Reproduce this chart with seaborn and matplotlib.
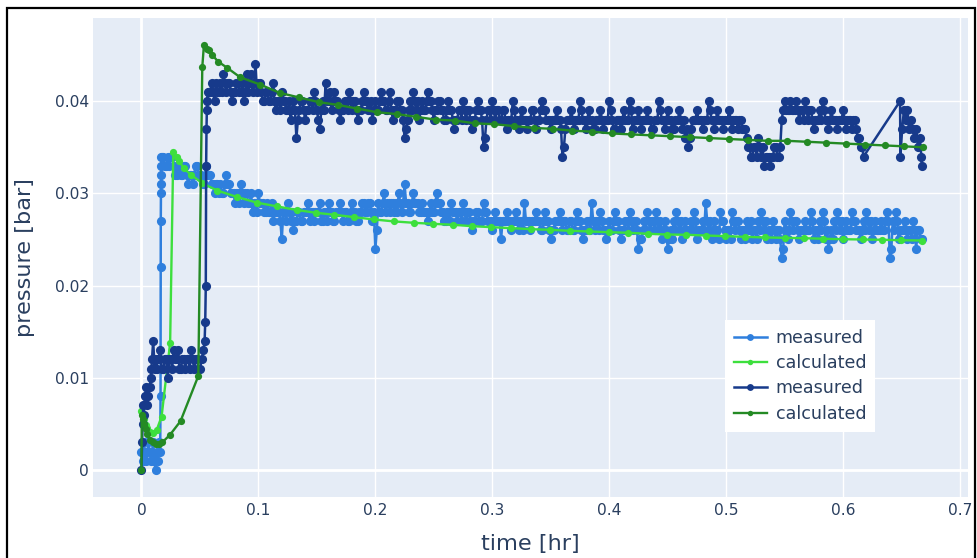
import numpy as np
import pandas as pd
import matplotlib
matplotlib.use("Agg")
import matplotlib.pyplot as plt
import seaborn as sns
from matplotlib.patches import Rectangle

# ---------------- data (pressure values of measured series in 0.001 bar) ----------------
# measured #1 (light blue): early part, explicit times
m1_early_t = [0.000, 0.001, 0.002, 0.003, 0.004, 0.005, 0.006, 0.007, 0.008, 0.009,
              0.010, 0.011, 0.012, 0.013, 0.014, 0.015, 0.0160, 0.0163, 0.0164, 0.0165,
              0.0166, 0.0167, 0.0168, 0.0169, 0.0170]
m1_early_v = [2, 1, 3, 2, 1, 2, 3, 2, 1, 2,
              3, 1, 0, 2, 1, 3, 2, 8, 22, 27,
              30, 31, 32, 33, 34]
# measured #1 main part, sampled every 0.0025 hr from 0.0175 hr
m1_start, m1_step = 0.0175, 0.0025
m1_main_v = [
    34, 33, 34, 34, 33, 32, 33, 32, 33, 31, 32, 32, 33, 32, 31, 33, 32, 31, 30, 31,
    31, 30, 32, 31, 30, 29, 30, 31, 29, 30, 29, 28, 29, 30, 29, 28, 29, 28, 27, 28,
    28, 25, 28, 29, 27, 26, 27, 28, 27, 28, 29, 28, 27, 28, 29, 27, 28, 29, 28, 27,
    28, 29, 27, 28, 27, 29, 28, 27, 28, 29, 28, 29, 27, 24, 29, 28, 30, 29, 28, 29,
    29, 30, 28, 31, 29, 28, 30, 29, 28, 29, 28, 27, 29, 28, 30, 29, 28, 27, 28, 29,
    28, 27, 28, 29, 27, 28, 26, 27, 28, 27, 29, 28, 27, 26, 28, 27, 25, 27, 28, 27,
    27, 28, 26, 27, 29, 27, 26, 27, 28, 27, 26, 28, 27, 25, 26, 27, 28, 26, 27, 26,
    27, 26, 28, 27, 25, 26, 27, 29, 26, 27, 28, 26, 25, 27, 26, 28, 27, 25, 26, 27,
    28, 26, 27, 24, 25, 27, 28, 26, 27, 28, 26, 25, 27, 24, 26, 27, 28, 26, 25, 27,
    26, 27, 28, 25, 26, 27, 29, 26, 25, 27, 26, 28, 27, 25, 26, 28, 26, 27, 25, 26,
    27, 26, 25, 26, 27, 28, 26, 25, 26, 27, 25, 26, 23, 27, 25, 28, 26, 27, 25, 26,
    27, 26, 28, 25, 26, 27, 28, 25, 24, 26, 27, 28, 26, 25, 27, 26, 28, 27, 26, 25,
    27, 28, 26, 25, 27, 26, 27, 26, 28, 23, 27, 28, 25, 26, 27, 25, 26, 27, 24, 26,
    25,
]
# measured #1, interleaved samples (every 0.0025 hr from 0.01875 hr)
m1_start2 = 0.01875
m1_main_v2 = [
    34, 33, 33, 34, 32, 33, 32, 33, 32, 32, 31, 33, 32, 32, 31, 32, 32, 31, 31, 30,
    30, 31, 31, 30, 30, 30, 29, 30, 30, 29, 30, 29, 28, 29, 29, 28, 28, 29, 28, 28,
    27, 28, 27, 28, 28, 27, 28, 27, 28, 28, 27, 28, 28, 28, 27, 28, 27, 28, 27, 28,
    28, 28, 28, 27, 28, 28, 27, 28, 29, 28, 29, 28, 28, 26, 28, 29, 28, 29, 29, 28,
    28, 29, 29, 29, 28, 29, 29, 29, 28, 28, 28, 28, 28, 29, 29, 28, 27, 28, 27, 28,
    28, 28, 27, 28, 28, 27, 27, 28, 27, 27, 28, 27, 27, 27, 27, 27, 27, 27, 27, 26,
    27, 27, 27, 26, 27, 27, 27, 27, 27, 26, 27, 27, 26, 26, 27, 27, 27, 27, 26, 27,
    26, 27, 27, 26, 26, 27, 26, 27, 27, 26, 27, 26, 26, 26, 27, 27, 26, 26, 27, 26,
    27, 27, 26, 25, 26, 26, 27, 27, 26, 27, 27, 26, 26, 25, 25, 26, 27, 27, 26, 26,
    26, 26, 27, 26, 26, 26, 27, 27, 26, 26, 25, 27, 26, 26, 25, 27, 27, 26, 26, 25,
    26, 27, 26, 25, 26, 27, 27, 26, 25, 26, 26, 25, 24, 26, 26, 27, 27, 26, 26, 26,
    26, 26, 27, 26, 25, 26, 27, 26, 25, 25, 26, 27, 27, 26, 26, 26, 27, 26, 26, 26,
    26, 27, 27, 26, 26, 26, 26, 27, 27, 24, 26, 27, 26, 26, 26, 26, 25, 26, 26, 25,
]

# calculated #1 (bright green)
c1_t = [0.000, 0.001, 0.002, 0.0035, 0.005, 0.0075, 0.010, 0.0129, 0.0172, 0.0245,
        0.0272, 0.0300, 0.0323, 0.0363, 0.0426, 0.0520, 0.0650, 0.0820, 0.0986, 0.1155,
        0.1327, 0.1490, 0.1650, 0.1820, 0.1990, 0.2160, 0.2330, 0.2490, 0.2660, 0.2830,
        0.2990, 0.3160, 0.3330, 0.3494, 0.3665, 0.3830, 0.3994, 0.4160, 0.4328, 0.4494,
        0.4659, 0.4828, 0.4994, 0.5160, 0.5329, 0.5500, 0.5666, 0.5832, 0.5998, 0.6166,
        0.6332, 0.6498, 0.6675]
c1_v = [0.0064, 0.0060, 0.0055, 0.0049, 0.0045, 0.0041, 0.0040, 0.0043, 0.0058, 0.0138,
        0.0345, 0.0340, 0.0335, 0.0327, 0.0320, 0.0311, 0.0303, 0.0296, 0.0290, 0.0286,
        0.0282, 0.0279, 0.02768, 0.02742, 0.02717, 0.02696, 0.02681, 0.02670, 0.02660, 0.02644,
        0.02634, 0.02623, 0.02612, 0.02605, 0.02594, 0.02587, 0.02579, 0.02573, 0.02562, 0.02554,
        0.02551, 0.02543, 0.02536, 0.02529, 0.02522, 0.02518, 0.02514, 0.02508, 0.02503, 0.02500,
        0.02497, 0.02492, 0.02489]

# measured #2 (navy): early part, explicit times
m2_early_t = [0.000, 0.0005, 0.001, 0.0015, 0.002, 0.003, 0.004, 0.005, 0.006, 0.007,
              0.008, 0.0085, 0.009, 0.010, 0.0115, 0.013, 0.0145, 0.016, 0.0175, 0.020,
              0.0225, 0.025, 0.0275, 0.030, 0.0325, 0.035, 0.0375, 0.040, 0.0425, 0.045,
              0.0475, 0.050, 0.0515, 0.053, 0.054, 0.0545, 0.055, 0.0553, 0.0556, 0.0559,
              0.0562, 0.0565]
m2_early_v = [0, 3, 5, 7, 6, 8, 9, 7, 8, 9,
              10, 11, 12, 14, 12, 11, 12, 13, 11, 12,
              10, 12, 13, 12, 11, 12, 11, 12, 13, 11,
              12, 11, 12, 13, 14, 16, 20, 33, 37, 39,
              40, 41]
# measured #2 plateau, interleaved samples
m2_plateau_t = [0.01125, 0.01375, 0.01625, 0.01875, 0.02125, 0.02375, 0.02625, 0.02875,
                0.03125, 0.03375, 0.03625, 0.03875, 0.04125, 0.04375, 0.04625, 0.04875]
m2_plateau_v = [11, 12, 12, 11, 12, 12, 11, 12, 13, 11, 12, 12, 11, 12, 12, 11]
# measured #2 main part, sampled every 0.0025 hr from 0.0575 hr
m2_start, m2_step = 0.0575, 0.0025
m2_main_v = [
    41, 42, 40, 41, 42, 43, 41, 42, 40, 41, 42, 41, 40, 43, 42, 41, 44, 42, 41, 40,
    41, 40, 42, 39, 40, 41, 40, 39, 38, 40, 36, 39, 40, 38, 39, 40, 41, 39, 37, 40,
    42, 40, 39, 41, 40, 38, 39, 40, 41, 39, 40, 38, 39, 41, 40, 39, 38, 40, 39, 41,
    40, 39, 41, 38, 39, 40, 39, 36, 38, 40, 41, 39, 38, 40, 39, 41, 40, 38, 39, 40,
    39, 38, 40, 39, 37, 38, 39, 40, 38, 39, 37, 38, 40, 39, 35, 38, 39, 40, 38, 39,
    38, 39, 37, 38, 40, 38, 37, 39, 38, 37, 38, 39, 37, 38, 40, 39, 38, 37, 38, 39,
    38, 34, 37, 38, 39, 37, 38, 40, 38, 37, 39, 38, 37, 38, 39, 37, 38, 40, 38, 37,
    38, 37, 39, 38, 40, 37, 38, 39, 37, 38, 39, 38, 37, 38, 40, 38, 37, 39, 38, 37,
    38, 39, 37, 36, 35, 37, 38, 39, 38, 37, 38, 40, 38, 37, 39, 38, 37, 38, 39, 37,
    38, 37, 38, 37, 36, 35, 34, 35, 36, 34, 33, 34, 33, 34, 35, 34, 38, 40, 39, 40,
    39, 40, 38, 39, 40, 38, 39, 37, 38, 39, 40, 38, 37, 39, 38, 37, 38, 39, 37, 38,
    37, 38, 36, 35, 34,
]
# measured #2, interleaved samples (every 0.0025 hr from 0.05875 hr)
m2_start2 = 0.05875
m2_main_v2 = [
    41, 41, 42, 41, 41, 42, 42, 41, 41, 42, 41, 42, 41, 41, 43, 42, 41, 42, 40, 41,
    40, 41, 40, 40, 39, 40, 39, 40, 39, 39, 38, 40, 39, 39, 40, 39, 40, 38, 39, 39,
    40, 41, 40, 40, 39, 39, 40, 39, 40, 40, 39, 39, 40, 40, 39, 40, 39, 39, 40, 40,
    39, 40, 39, 39, 40, 39, 38, 37, 39, 39, 40, 40, 39, 39, 40, 40, 39, 39, 40, 39,
    38, 39, 39, 38, 38, 39, 38, 39, 39, 38, 38, 39, 39, 38, 36, 39, 38, 39, 39, 38,
    39, 38, 38, 38, 39, 38, 38, 38, 38, 38, 39, 38, 38, 39, 39, 38, 38, 38, 38, 38,
    37, 35, 38, 38, 38, 38, 38, 39, 38, 38, 38, 37, 38, 38, 38, 38, 38, 39, 37, 38,
    38, 38, 38, 38, 39, 38, 38, 38, 38, 38, 38, 37, 38, 38, 39, 38, 38, 38, 37, 38,
    38, 38, 38, 37, 36, 38, 38, 38, 38, 38, 38, 39, 38, 38, 38, 38, 38, 38, 38, 38,
    38, 38, 37, 37, 35, 34, 35, 34, 35, 35, 34, 34, 34, 35, 34, 35, 39, 39, 39, 39,
    39, 39, 39, 38, 39, 39, 38, 38, 38, 38, 39, 38, 38, 38, 38, 38, 38, 38, 38, 38,
    38, 37, 36, 35,
]
# measured #2 tail after the data gap
m2_tail_t = [0.6487, 0.6490, 0.6505, 0.6520, 0.6535, 0.6550, 0.6565, 0.6580, 0.6595, 0.6610,
             0.6625, 0.6640, 0.6655, 0.6670, 0.6672]
m2_tail_v = [40, 34, 37, 39, 38, 39, 37, 38, 37, 36,
             37, 35, 36, 34, 33]

# calculated #2 (dark green)
c2_t = [0.000, 0.0002, 0.001, 0.002, 0.0035, 0.005, 0.0077, 0.010, 0.012, 0.0150,
        0.0178, 0.0243, 0.0334, 0.0486, 0.0520, 0.0534, 0.0557, 0.0577, 0.0606, 0.0655,
        0.0735, 0.0843, 0.1015, 0.1184, 0.1349, 0.1515, 0.1678, 0.1844, 0.2015, 0.2184,
        0.2350, 0.2515, 0.2682, 0.2850, 0.3016, 0.3188, 0.3353, 0.3516, 0.3685, 0.3851,
        0.4020, 0.4185, 0.4354, 0.4522, 0.4689, 0.4857, 0.5023, 0.5189, 0.5358, 0.5523,
        0.5689, 0.5855, 0.6023, 0.6189, 0.6358, 0.6524, 0.6687]
c2_v = [0.0000, 0.0060, 0.0055, 0.0050, 0.0044, 0.0039, 0.0033, 0.0030, 0.0028, 0.0028,
        0.0030, 0.0038, 0.0053, 0.0102, 0.0437, 0.0461, 0.0457, 0.0455, 0.0450, 0.0443,
        0.0436, 0.0426, 0.0418, 0.0409, 0.0404, 0.0399, 0.0396, 0.0392, 0.0388, 0.0386,
        0.0383, 0.0380, 0.0379, 0.0376, 0.0375, 0.0373, 0.0371, 0.0370, 0.0368, 0.0367,
        0.0365, 0.0364, 0.0363, 0.0362, 0.0361, 0.0360, 0.0359, 0.0358, 0.0357, 0.0357,
        0.0356, 0.0355, 0.0354, 0.0353, 0.0352, 0.0351, 0.0350]

series_labels = ["measured", "calculated", "measured", "calculated"]
series_colors = ["#2F7FDD", "#3DDF3D", "#173A8B", "#248A24"]

x_ticks = [0, 0.1, 0.2, 0.3, 0.4, 0.5, 0.6, 0.7]
x_tick_labels = ["0", "0.1", "0.2", "0.3", "0.4", "0.5", "0.6", "0.7"]
y_ticks = [0, 0.01, 0.02, 0.03, 0.04]
y_tick_labels = ["0", "0.01", "0.02", "0.03", "0.04"]

# ---------------- assemble ----------------
def measured_frame(parts):
    t_all, v_all = [], []
    for t_list, v_list in parts:
        t_all += list(t_list)
        v_all += [v * 0.001 for v in v_list]
    df = pd.DataFrame({"t": t_all, "p": v_all})
    return df.sort_values("t", kind="stable").reset_index(drop=True)

m1_df = measured_frame([
    (m1_early_t, m1_early_v),
    ([m1_start + i * m1_step for i in range(len(m1_main_v))], m1_main_v),
    ([m1_start2 + i * m1_step for i in range(len(m1_main_v2))], m1_main_v2),
])
m2_df = measured_frame([
    (m2_early_t, m2_early_v),
    (m2_plateau_t, m2_plateau_v),
    ([m2_start + i * m2_step for i in range(len(m2_main_v))], m2_main_v),
    ([m2_start2 + i * m2_step for i in range(len(m2_main_v2))], m2_main_v2),
    (m2_tail_t, m2_tail_v),
])

frames = [
    m1_df,
    pd.DataFrame({"t": c1_t, "p": c1_v}),
    m2_df,
    pd.DataFrame({"t": c2_t, "p": c2_v}),
]
marker_sizes = [6.6, 5.2, 6.6, 5.2]
line_widths = [1.8, 1.7, 1.8, 1.7]

# ---------------- figure ----------------
W, H = 977, 558
fig = plt.figure(figsize=(W / 100, H / 100), dpi=100)
fig.patch.set_facecolor("white")
L, R, T, B = 93.3, 968.0, 18.3, 497.0
ax = fig.add_axes([L / W, 1 - B / H, (R - L) / W, (B - T) / H])
ax.set_facecolor("#E5ECF6")

for df, lab, col, ms, lw in zip(frames, series_labels, series_colors, marker_sizes, line_widths):
    sns.lineplot(data=df, x="t", y="p", ax=ax, sort=False, estimator=None,
                 color=col, label=lab, linewidth=lw, marker="o",
                 markersize=ms, markeredgewidth=0, zorder=3)

ax.set_xlim(-0.0412, 0.7068)
ax.set_ylim(-0.00293, 0.04899)
ax.set_xticks(x_ticks)
ax.set_xticklabels(x_tick_labels)
ax.set_yticks(y_ticks)
ax.set_yticklabels(y_tick_labels)
ax.grid(True, color="white", linewidth=1.0, zorder=0)
ax.set_axisbelow(True)
ax.axhline(0, color="white", linewidth=2.0, zorder=1)
ax.axvline(0, color="white", linewidth=2.0, zorder=1)
for s in ax.spines.values():
    s.set_visible(False)

tick_color = "#2a3f5f"
ax.tick_params(axis="both", length=0, labelsize=11.2, colors=tick_color)
ax.tick_params(axis="x", pad=4)
ax.tick_params(axis="y", pad=3)

ax.set_xlabel("time [hr]", fontsize=16.2, color=tick_color)
ax.set_ylabel("pressure [bar]", fontsize=16.2, color=tick_color)
ax.xaxis.label.set_va("center")
ax.yaxis.label.set_va("center")
ax.xaxis.set_label_coords(0.5, (B - 544) / (B - T))
ax.yaxis.set_label_coords((25 - L) / (R - L), 0.5)

handles, labels = ax.get_legend_handles_labels()
leg = ax.legend(handles, labels, loc="upper left",
                bbox_to_anchor=(725 / W, 1 - 320 / H), bbox_transform=fig.transFigure,
                borderaxespad=0, fontsize=12.6, frameon=True, fancybox=False,
                framealpha=1.0, facecolor="white", edgecolor="none",
                handlelength=1.9, handletextpad=0.5, labelspacing=0.42,
                borderpad=0.5, markerscale=0.75)
for txt in leg.get_texts():
    txt.set_color(tick_color)

# screenshot frame
fig.patches.append(Rectangle((7 / W, -0.1), (975 - 7) / W, 1.1 - 8 / H,
                             transform=fig.transFigure, fill=False,
                             edgecolor="black", linewidth=1.6, clip_on=False))

fig.savefig("out.png", dpi=100)
